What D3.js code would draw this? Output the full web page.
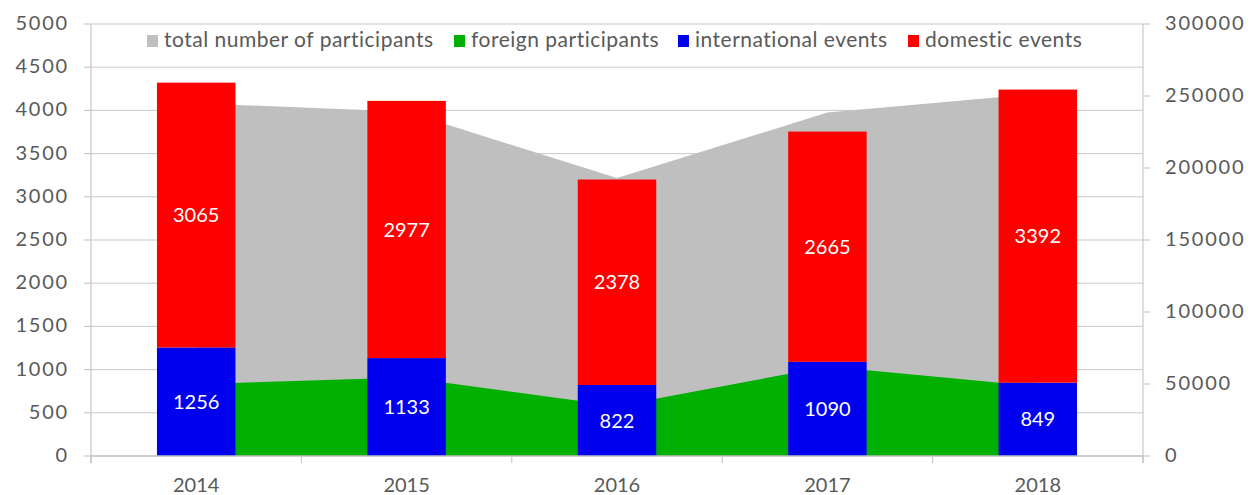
<!DOCTYPE html>
<html>
<head>
<meta charset="utf-8">
<script src="https://cdn.jsdelivr.net/npm/d3@7"></script>
<style>
  html, body { margin: 0; padding: 0; background: #fff; }
  text { font-family: Lato, "Open Sans", sans-serif; }
</style>
</head>
<body>
<div id="canvas"></div>
<script>
// DATA
const years = ["2014", "2015", "2016", "2017", "2018"];
const internationalEvents = [1256, 1133, 822, 1090, 849];
const domesticEvents = [3065, 2977, 2378, 2665, 3392];
const totalParticipants = [245000, 239000, 193000, 238500, 251500];
const foreignParticipants = [50000, 54500, 34700, 62100, 48300];

const leftTicks = [0, 500, 1000, 1500, 2000, 2500, 3000, 3500, 4000, 4500, 5000];
const rightTicks = [0, 50000, 100000, 150000, 200000, 250000, 300000];

const legendItems = [
  { label: "total number of participants", color: "#bfbfbf" },
  { label: "foreign participants", color: "#00b000" },
  { label: "international events", color: "#0000ee" },
  { label: "domestic events", color: "#ff0000" }
];

// DIMENSIONS
const width = 1252;
const height = 495;
const plotLeft = 91, plotRight = 1143, plotTop = 24, plotBottom = 456;
const textColor = "#595959";

const svg = d3.select("#canvas")
  .append("svg")
  .attr("width", width)
  .attr("height", height);

// SCALES
const pad = 0.627;
const x = d3.scaleBand()
  .domain(years)
  .range([plotLeft, plotRight])
  .paddingInner(pad)
  .paddingOuter(pad / 2);
const cx = d => x(d) + x.bandwidth() / 2;

const yL = d3.scaleLinear().domain([0, 5000]).range([plotBottom, plotTop]);
const yR = d3.scaleLinear().domain([0, 300000]).range([plotBottom, plotTop]);

// GRID
svg.append("g").selectAll("line")
  .data(leftTicks.slice(1))
  .join("line")
  .attr("x1", plotLeft).attr("x2", plotRight)
  .attr("y1", d => yL(d)).attr("y2", d => yL(d))
  .attr("stroke", "#c8c8c8").attr("stroke-width", 1);

// AREAS
const rows = years.map((y, i) => ({ year: y, total: totalParticipants[i], foreign: foreignParticipants[i] }));

svg.append("path")
  .datum(rows)
  .attr("fill", "#bfbfbf")
  .attr("d", d3.area().x(d => cx(d.year)).y0(yR(0)).y1(d => yR(d.total)));

svg.append("path")
  .datum(rows)
  .attr("fill", "#00b000")
  .attr("d", d3.area().x(d => cx(d.year)).y0(yR(0)).y1(d => yR(d.foreign)));

// BARS
const bars = svg.append("g");
bars.selectAll(".intl")
  .data(years)
  .join("rect")
  .attr("class", "intl")
  .attr("x", d => x(d))
  .attr("width", x.bandwidth())
  .attr("y", (d, i) => yL(internationalEvents[i]))
  .attr("height", (d, i) => yL(0) - yL(internationalEvents[i]))
  .attr("fill", "#0000ee");

bars.selectAll(".dom")
  .data(years)
  .join("rect")
  .attr("class", "dom")
  .attr("x", d => x(d))
  .attr("width", x.bandwidth())
  .attr("y", (d, i) => yL(internationalEvents[i] + domesticEvents[i]))
  .attr("height", (d, i) => yL(internationalEvents[i]) - yL(internationalEvents[i] + domesticEvents[i]))
  .attr("fill", "#ff0000");

// BAR LABELS
const labels = svg.append("g")
  .attr("fill", "#fff")
  .attr("font-size", 20)
  .attr("text-anchor", "middle")
  .attr("dominant-baseline", "middle");

labels.selectAll(".lab-intl")
  .data(years)
  .join("text")
  .attr("x", d => cx(d))
  .attr("y", (d, i) => yL(internationalEvents[i] / 2) + 2)
  .text((d, i) => internationalEvents[i]);

labels.selectAll(".lab-dom")
  .data(years)
  .join("text")
  .attr("x", d => cx(d))
  .attr("y", (d, i) => yL(internationalEvents[i] + domesticEvents[i] / 2) + 2)
  .text((d, i) => domesticEvents[i]);

// AXES LINES
const axisColor = "#bfbfbf";
svg.append("line")
  .attr("x1", plotLeft).attr("x2", plotLeft)
  .attr("y1", plotTop).attr("y2", plotBottom + 7)
  .attr("stroke", "#d0d0d0").attr("stroke-width", 1.5);
svg.append("line")
  .attr("x1", plotRight).attr("x2", plotRight)
  .attr("y1", plotTop).attr("y2", plotBottom + 7)
  .attr("stroke", axisColor).attr("stroke-width", 1);
svg.append("line")
  .attr("x1", plotLeft).attr("x2", plotRight)
  .attr("y1", plotBottom).attr("y2", plotBottom)
  .attr("stroke", axisColor).attr("stroke-width", 1.5);

// category ticks at band boundaries
const boundaries = years.map(d => x(d) - x.step() * pad / 2).concat([plotRight]);
svg.append("g").selectAll("line")
  .data(boundaries)
  .join("line")
  .attr("x1", d => d).attr("x2", d => d)
  .attr("y1", plotBottom).attr("y2", plotBottom + 7)
  .attr("stroke", axisColor);

// LEFT AXIS
const leftAxis = svg.append("g");
leftAxis.selectAll("line")
  .data(leftTicks)
  .join("line")
  .attr("x1", plotLeft - 7).attr("x2", plotLeft)
  .attr("y1", d => yL(d)).attr("y2", d => yL(d))
  .attr("stroke", axisColor);
leftAxis.selectAll("text")
  .data(leftTicks)
  .join("text")
  .attr("x", 69)
  .attr("y", d => yL(d) + 1)
  .attr("text-anchor", "end")
  .attr("dominant-baseline", "middle")
  .attr("font-size", 20)
  .attr("letter-spacing", 1.8)
  .attr("fill", textColor)
  .text(d => d);

// RIGHT AXIS
const rightAxis = svg.append("g");
rightAxis.selectAll("line")
  .data(rightTicks)
  .join("line")
  .attr("x1", plotRight).attr("x2", plotRight + 7)
  .attr("y1", d => yR(d)).attr("y2", d => yR(d))
  .attr("stroke", axisColor);
rightAxis.selectAll("text")
  .data(rightTicks)
  .join("text")
  .attr("x", 1165)
  .attr("y", d => yR(d) + 1)
  .attr("dominant-baseline", "middle")
  .attr("font-size", 20)
  .attr("letter-spacing", 1.8)
  .attr("fill", textColor)
  .text(d => d);

// X LABELS
svg.append("g").selectAll("text")
  .data(years)
  .join("text")
  .attr("x", d => cx(d))
  .attr("y", 492)
  .attr("text-anchor", "middle")
  .attr("font-size", 20)
  .attr("fill", textColor)
  .text(d => d);

// LEGEND
const legendX = [147, 454, 678, 908];
const legend = svg.append("g");
legendItems.forEach((item, i) => {
  legend.append("rect")
    .attr("x", legendX[i]).attr("y", 35)
    .attr("width", 11).attr("height", 12)
    .attr("fill", item.color);
  legend.append("text")
    .attr("x", legendX[i] + 17).attr("y", 42)
    .attr("dominant-baseline", "middle")
    .attr("font-size", 21)
    .attr("letter-spacing", 0.5)
    .attr("fill", textColor)
    .text(item.label);
});
</script>
</body>
</html>
